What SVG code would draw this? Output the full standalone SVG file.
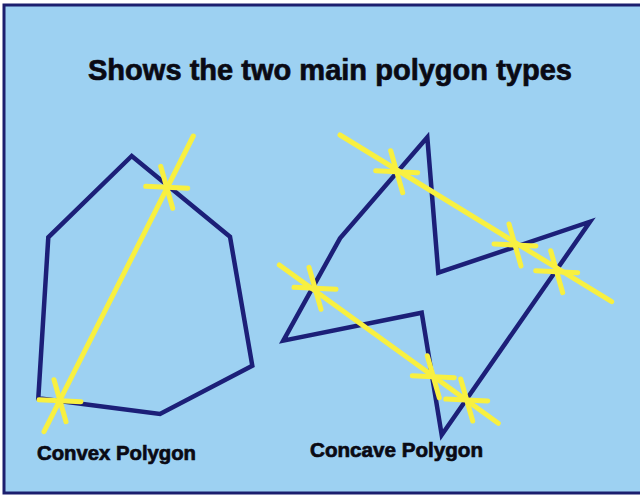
<svg xmlns="http://www.w3.org/2000/svg" width="640" height="496" viewBox="0 0 640 496">
<style>
.poly{fill:none;stroke:#1c1f78;stroke-width:4.5;stroke-linejoin:miter}
.yl{stroke:#f8f040;stroke-width:5;stroke-linecap:round;fill:none}
.st{stroke:#f8f040;stroke-width:5;stroke-linecap:round}
.t{font-family:"Liberation Sans",Arial,sans-serif;font-weight:bold;fill:#0a0a14;stroke:#0a0a14;stroke-width:0.7}
</style>
<defs>
<g id="star">
<line class="st" x1="-21" y1="-1" x2="21" y2="1"/>
<line class="st" x1="-6" y1="-21" x2="6" y2="21"/>
</g>
</defs>
<rect x="0" y="0" width="640" height="496" fill="#ffffff"/>
<rect x="4" y="5" width="640" height="488" fill="#9dd1f2" stroke="#1c1f6e" stroke-width="3"/>
<text class="t" x="88" y="80" font-size="30" textLength="484" lengthAdjust="spacingAndGlyphs">Shows the two main polygon types</text>
<g id="convex">
<polygon class="poly" points="131.7,156 48.3,237.3 38.3,398.3 160,414 252.3,365.7 230,236.7"/>
<line class="yl" x1="193.3" y1="136" x2="44" y2="431.7"/>
<use href="#star" x="166.7" y="187.3"/>
<use href="#star" x="60" y="400.7"/>
<text class="t" x="37" y="460" font-size="21" textLength="159" lengthAdjust="spacingAndGlyphs">Convex Polygon</text>
</g>
<g id="concave">
<polygon class="poly" points="427.3,137.3 438.3,272.7 590,221.7 441.7,435 421.7,312.7 283.3,340.7 340,238.3"/>
<line class="yl" x1="340" y1="135" x2="611.7" y2="301.7"/>
<line class="yl" x1="279.3" y1="265" x2="498.3" y2="423.3"/>
<use href="#star" x="396.7" y="171.7"/>
<use href="#star" x="515" y="245"/>
<use href="#star" x="556.7" y="271.7"/>
<use href="#star" x="315" y="288.3"/>
<use href="#star" x="433.3" y="376.7"/>
<use href="#star" x="466.7" y="400"/>
<text class="t" x="310" y="457" font-size="21" textLength="173" lengthAdjust="spacingAndGlyphs">Concave Polygon</text>
</g>
</svg>
